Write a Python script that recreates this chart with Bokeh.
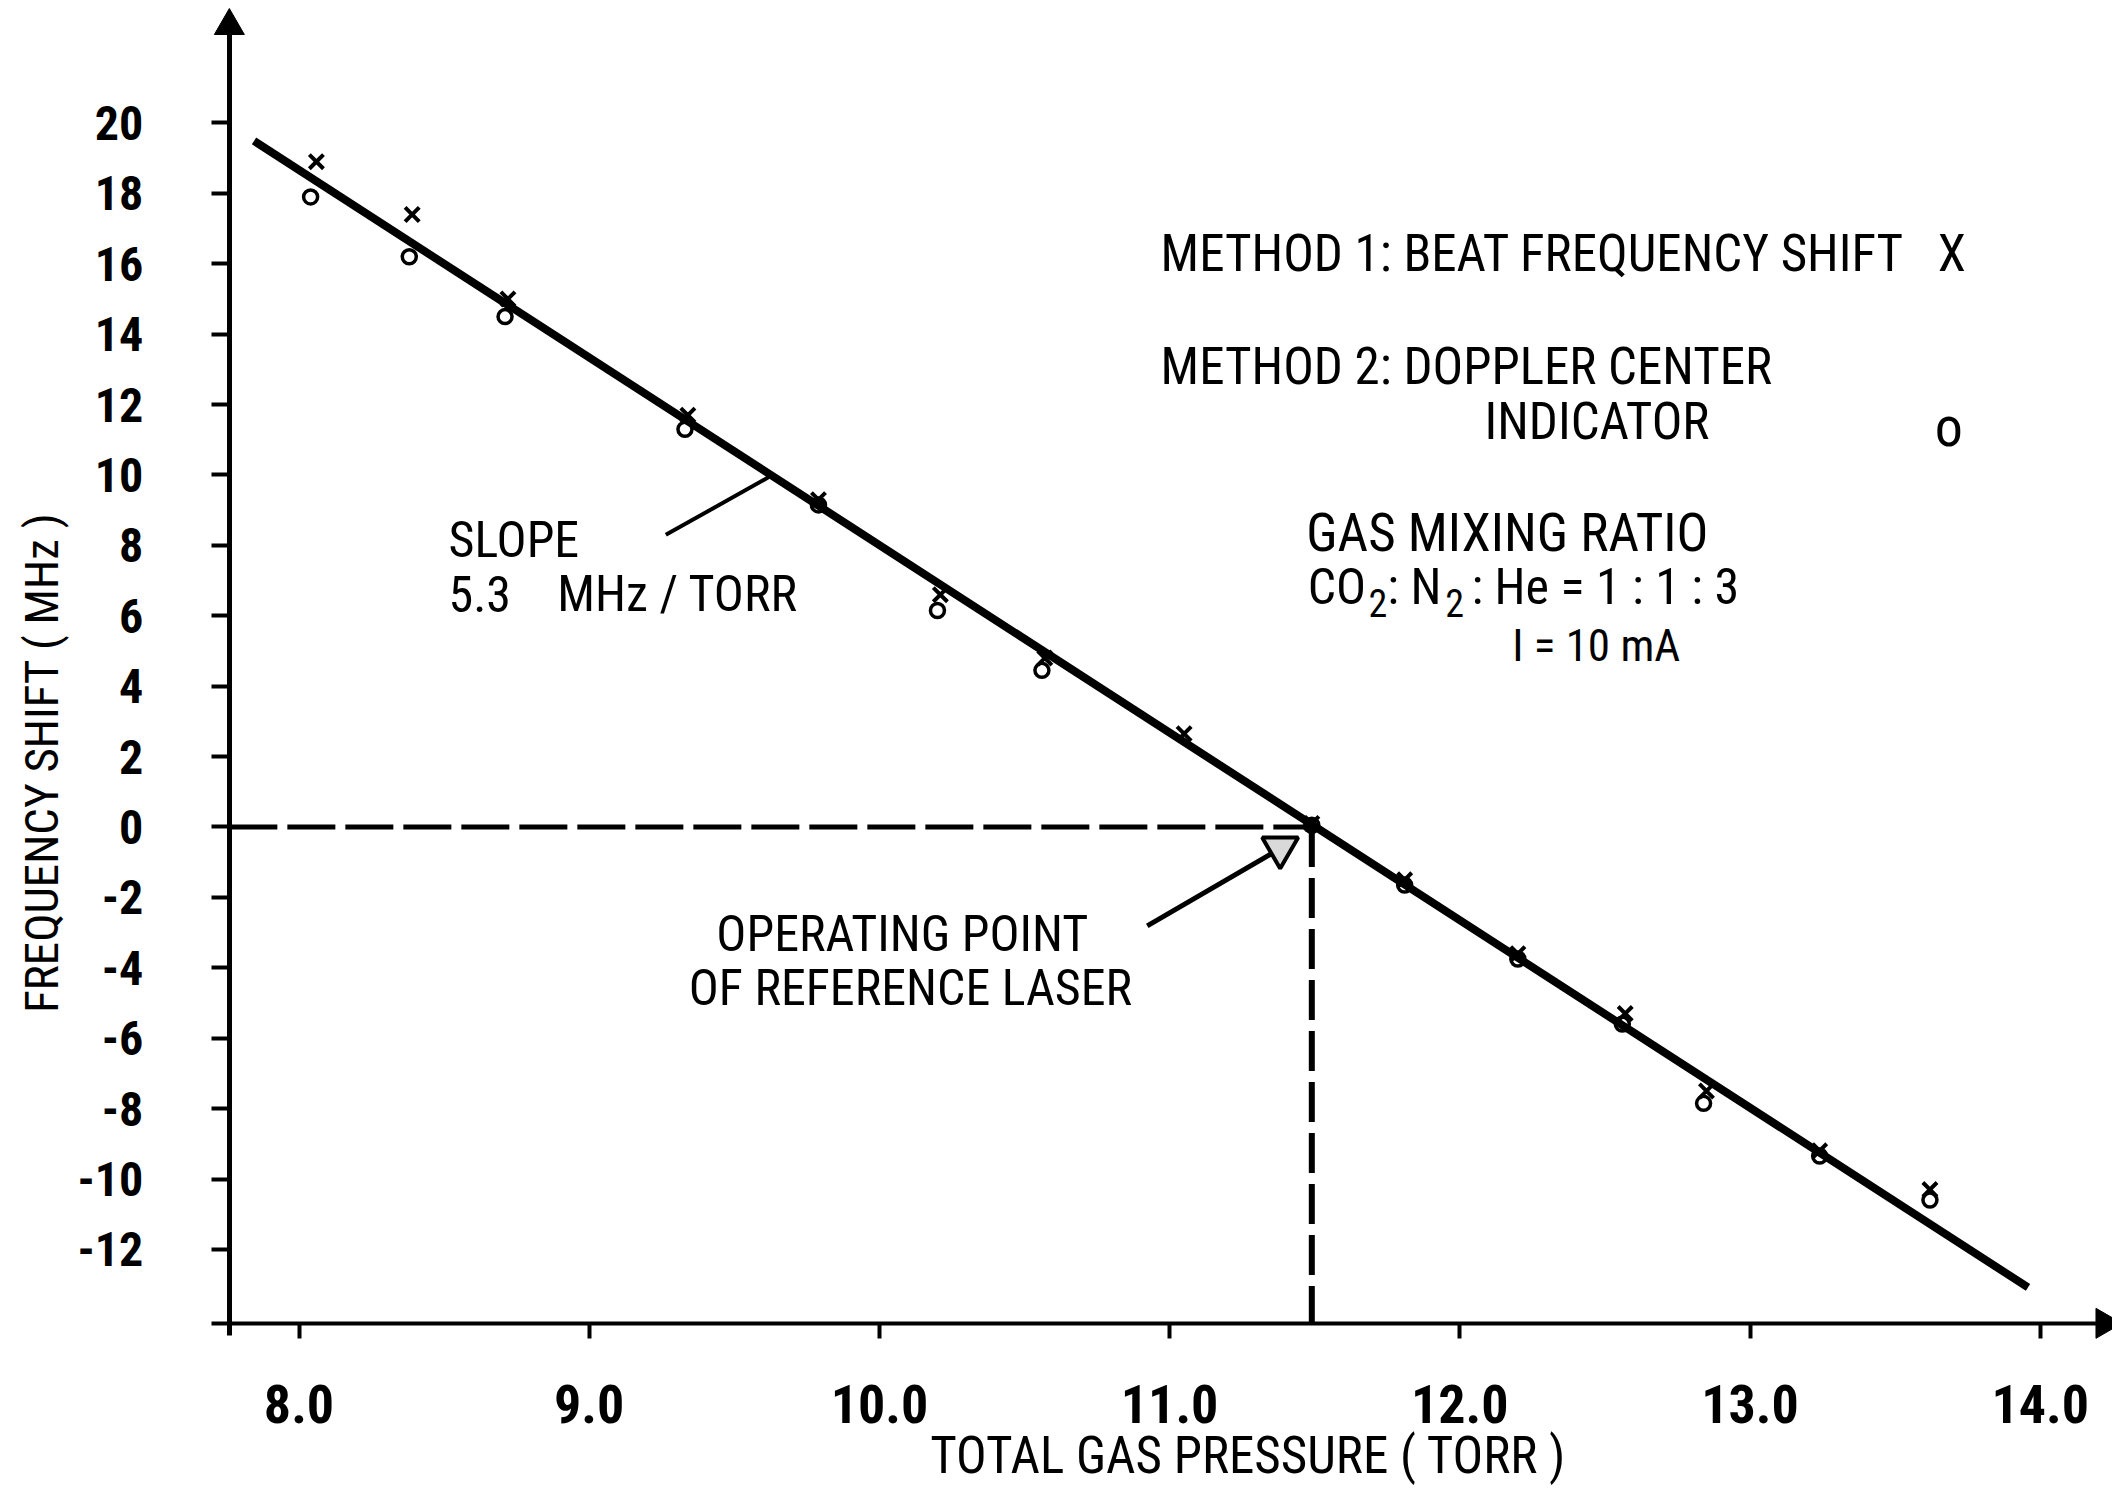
from bokeh.plotting import figure
from bokeh.models import Range1d, FixedTicker, PrintfTickFormatter
from bokeh.core.properties import value
from bokeh.embed import file_html
from bokeh.resources import INLINE

# ---------------- data ----------------
# Method 1: beat frequency shift (x markers)
P1 = [8.06, 8.39, 8.72, 9.34, 9.79, 10.21, 10.57, 11.05, 11.49, 11.81, 12.20, 12.57, 12.85, 13.24, 13.62]
F1 = [18.9, 17.4, 15.0, 11.7, 9.3, 6.6, 4.8, 2.65, 0.1, -1.5, -3.6, -5.3, -7.5, -9.2, -10.3]
# Method 2: Doppler center indicator (o markers)
P2 = [8.04, 8.38, 8.71, 9.33, 9.79, 10.20, 10.56, 11.49, 11.81, 12.20, 12.56, 12.84, 13.24, 13.62]
F2 = [17.9, 16.2, 14.5, 11.3, 9.15, 6.15, 4.45, 0.05, -1.65, -3.75, -5.6, -7.85, -9.35, -10.6]
# fitted straight line (slope 5.3 MHz/torr)
FIT_P = [7.845, 13.958]
FIT_F = [19.49, -13.08]
# operating point of reference laser
OP_P = 11.49
OP_F = 0.0

X_TICKS = [8.0, 9.0, 10.0, 11.0, 12.0, 13.0, 14.0]
Y_TICKS = [-12, -10, -8, -6, -4, -2, 0, 2, 4, 6, 8, 10, 12, 14, 16, 18, 20]

# ---------------- layout constants ----------------
X_AXIS_AT = -14.1      # F value where the pressure axis is drawn
Y_AXIS_AT = 7.76       # P value where the frequency axis is drawn
FONT = "'Roboto Condensed', 'Noto Sans Condensed', 'DejaVu Sans Condensed', 'Liberation Sans Narrow', Roboto, sans-serif"
TXT = "50px"

p = figure(width=2112, height=1494,
           x_range=Range1d(6.9714, 14.2491), y_range=Range1d(-18.963, 23.480),
           output_backend="svg", toolbar_location=None, min_border=0,
           background_fill_color="white", border_fill_color="white",
           outline_line_color=None)
p.grid.visible = False

xa = p.xaxis[0]
ya = p.yaxis[0]
xa.fixed_location = X_AXIS_AT
ya.fixed_location = Y_AXIS_AT
xa.bounds = (7.70, 14.2)
ya.bounds = (-14.45, 22.9)
xa.ticker = FixedTicker(ticks=X_TICKS)
ya.ticker = FixedTicker(ticks=Y_TICKS)
xa.formatter = PrintfTickFormatter(format="%.1f")
ya.formatter = PrintfTickFormatter(format="%d")
for ax, w, tout, stand, fs in ((xa, 4, 15, 47, "54px"), (ya, 5, 18, 68, "48px")):
    ax.axis_line_width = w
    ax.axis_line_color = "black"
    ax.major_tick_line_width = 4
    ax.major_tick_line_color = "black"
    ax.major_tick_in = 0
    ax.major_tick_out = tout
    ax.minor_tick_line_color = None
    ax.major_label_standoff = stand
    ax.major_label_text_font = FONT
    ax.major_label_text_font_size = fs
    ax.major_label_text_font_style = "bold"
    ax.major_label_text_color = "black"

# axis arrow heads
p.scatter([Y_AXIS_AT], [22.76], marker="triangle", size=30, color="black")
p.scatter([14.222], [X_AXIS_AT], marker="triangle", size=30, angle=-1.5708, color="black")

# dashed guide lines to the operating point
p.line([Y_AXIS_AT, OP_P], [OP_F, OP_F], line_width=5, line_dash="48 10", color="black")
p.line([OP_P, OP_P], [OP_F, X_AXIS_AT], line_width=6, line_dash="40 11", color="black")

# fitted line
p.line(FIT_P, FIT_F, line_width=8, color="black")

# data markers
p.scatter(P1, F1, marker="x", size=20, line_width=4, color="black")
p.scatter(P2, F2, marker="circle", size=14, line_width=3.5, line_color="black", fill_color=None)

# pointer for the slope annotation
p.line([9.264, 9.619], [8.30, 9.94], line_width=4, color="black")
# pointer and marker for the operating point
p.line([10.923, 11.359], [-2.81, -0.72], line_width=5, color="black")
p.scatter([11.381], [-0.59], marker="inverted_triangle", size=36, line_width=4,
          line_color="black", fill_color="#d9d9d9")

def txt(x, y, s, align="left", size=TXT, angle=0.0, xo=0, yo=0):
    p.text([x], [y], text=[s], text_font=value(FONT), text_font_size=size,
           text_align=align, text_baseline="middle", text_color="black",
           angle=angle, x_offset=xo, y_offset=yo)

txt(8.515, 8.15, "SLOPE")
txt(8.515, 6.62, "5.3")
txt(8.89, 6.62, "MHz / TORR")
txt(10.079, -3.04, "OPERATING POINT", align="center")
txt(10.107, -4.57, "OF REFERENCE LASER", align="center")
txt(10.969, 16.28, "METHOD 1: BEAT FREQUENCY SHIFT", size="51px")
txt(13.695, 16.28, "X", align="center", size="51px")
txt(10.969, 13.09, "METHOD 2: DOPPLER CENTER", size="51px")
txt(12.085, 11.52, "INDICATOR", size="51px")
txt(13.685, 11.37, "o", align="center", size="56px")
txt(11.471, 8.34, "GAS MIXING RATIO", size="53px")
# CO2 : N2 : He = 1 : 1 : 3 with lowered, slightly smaller subscripts
txt(11.476, 6.81, "CO")
txt(11.685, 6.81, "2", size="38px", yo=16)
txt(11.750, 6.81, ": N")
txt(11.950, 6.81, "2", size="38px", yo=16)
txt(12.04, 6.81, ": He = 1 : 1 : 3")
txt(12.47, 5.16, "I = 10 mA", align="center", size="45px")
txt(11.271, -17.85, "TOTAL GAS PRESSURE ( TORR )", align="center", size="51px")
txt(7.111, 1.83, "FREQUENCY SHIFT ( MHz )", align="center", size="47px", angle=1.5708)

open("out.html", "w").write(file_html(p, INLINE))
